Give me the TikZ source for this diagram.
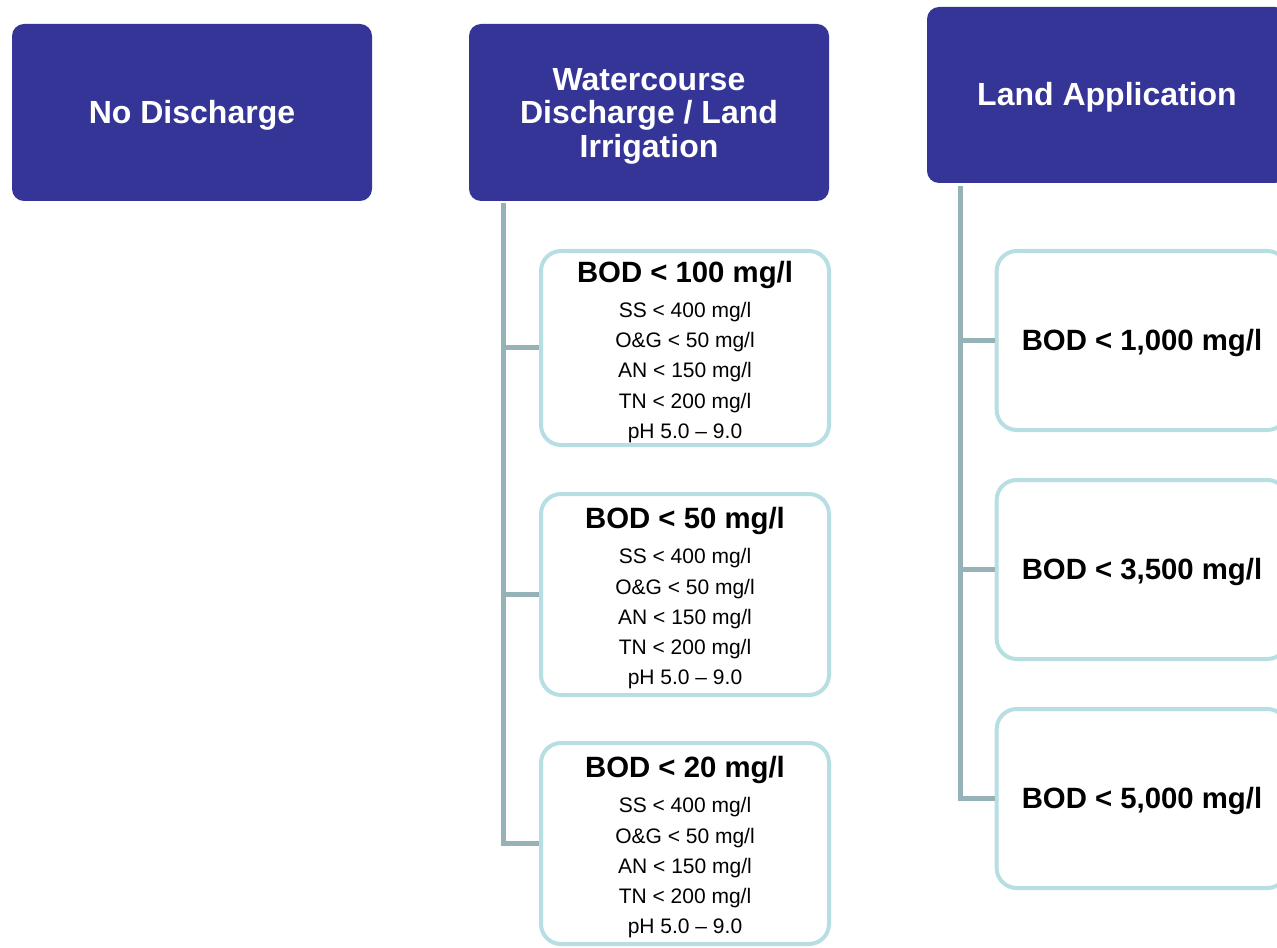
\documentclass[tikz,border=0pt]{standalone}
\usepackage{fontspec}
\setmainfont{Liberation Sans}
\usepackage{tikz}
\definecolor{headblue}{RGB}{53,53,152}
\definecolor{trunkgray}{RGB}{149,179,183}
\definecolor{boxcyan}{RGB}{183,223,227}
\newcommand{\otherlimits}{%
  SS < 400 mg/l\\ O\&G < 50 mg/l\\ AN < 150 mg/l\\ TN < 200 mg/l\\ pH 5.0 -- 9.0}

\begin{document}
\begin{tikzpicture}[x=0.75pt,y=-0.75pt,
    head/.style={fill=headblue, rounded corners=9pt, minimum width=270pt,
      text=white, align=center, execute at begin node={\rule{0pt}{21pt}},
      font=\fontsize{24}{25}\selectfont\bfseries},
    limitbox/.style={draw=boxcyan, line width=3pt, rounded corners=15pt,
      fill=white, minimum width=216pt, align=center, inner ysep=1pt,
      font=\fontsize{15.75}{22.7}\selectfont},
    trunk/.style={draw=trunkgray, line width=3.75pt}
  ]
  % Page size of the reference, right hand boxes are cut off at its edge
  \clip (0,0) rectangle (1277,948);

  % The three headers
  \node[head, minimum height=132.75pt] (nodis) at (192,112.5) {No Discharge};
  \node[head, minimum height=132.75pt] (water) at (649,112.5)
    {\rule{0pt}{22pt}Watercourse\\ Discharge / Land\\ Irrigation};
  \node[head, minimum height=132pt] (land) at (1107,95) {Land Application};

  % Top ends of the two trunk lines
  \coordinate (wtrunk) at (503,203);
  \coordinate (ltrunk) at (960,186);

  % Limits for watercourse discharge
  \foreach \bod/\y/\h [count=\i] in {100/348/145.5, 50/594.5/150.75,
      20/843.5/150.75} {
    \node[limitbox, minimum height=\h pt] (wb\i) at (685,\y)
      {\rule{0pt}{22pt}{\fontsize{22}{22}\selectfont\bfseries
       BOD < \bod{} mg/l}\\[3.5pt]
       \otherlimits};
    \draw[trunk] (wtrunk |- wb\i.west) -- (wb\i.west);
  }
  \draw[trunk] (wtrunk) |- (wb3.west);

  % Limits for land application
  \foreach \bod/\y [count=\i] in {1{,}000/340.5, 3{,}500/569.5,
      5{,}000/798.5} {
    \node[limitbox, minimum width=218pt, minimum height=134.25pt,
      execute at begin node={\rule{0pt}{19pt}},
      font=\fontsize{22}{22}\selectfont\bfseries] (lb\i) at (1142,\y)
      {BOD < \bod{} mg/l};
    \draw[trunk] (ltrunk |- lb\i.west) -- (lb\i.west);
  }
  \draw[trunk] (ltrunk) |- (lb3.west);
\end{tikzpicture}
\end{document}
